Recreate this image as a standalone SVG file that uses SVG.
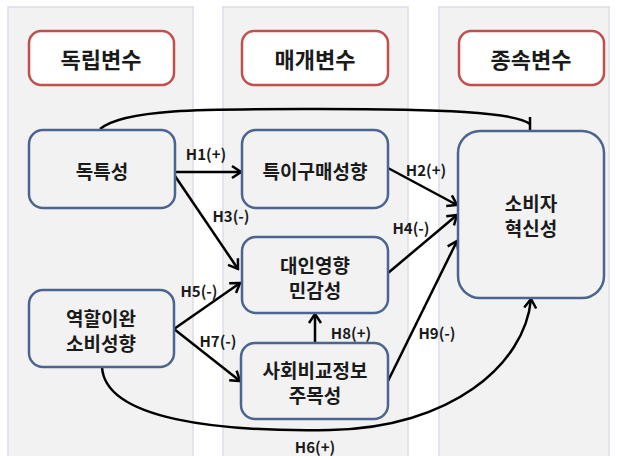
<svg xmlns="http://www.w3.org/2000/svg" width="617" height="456" viewBox="0 0 617 456">
<defs>
<style>
.col{fill:#f2f2f3;stroke:#dcdde9;stroke-width:1.5}
.hdr{fill:#ffffff;stroke:#c0504d;stroke-width:2.5}
.node{fill:#f2f2f3;stroke:#4a6690;stroke-width:2.5}
.htxt{font-family:"Noto Sans CJK KR",sans-serif;font-weight:bold;font-size:22px;fill:#1a1a1a;text-anchor:middle;dominant-baseline:central}
.ntxt{font-family:"Noto Sans CJK KR",sans-serif;font-weight:bold;font-size:19px;fill:#1a1a1a;text-anchor:middle;dominant-baseline:central}
.lbl{font-family:"Noto Sans CJK KR","Liberation Sans",sans-serif;font-weight:bold;font-size:15px;fill:#1a1a1a;text-anchor:middle;dominant-baseline:central}
.edge{fill:none;stroke:#000;stroke-width:2.5}
</style>
<marker id="arr" viewBox="-12 -8 14 16" refX="0" refY="0" markerWidth="14" markerHeight="16" markerUnits="userSpaceOnUse" orient="auto">
<path d="M-9,-6 L0,0 L-9,6" fill="none" stroke="#000" stroke-width="2.5" stroke-linejoin="miter"/>
</marker>
</defs>
<rect x="0" y="0" width="617" height="456" fill="#ffffff"/>
<g id="columns">
<rect class="col" x="8" y="7" width="185" height="452"/>
<rect class="col" x="223" y="7" width="185" height="452"/>
<rect class="col" x="439" y="7" width="170" height="452"/>
</g>
<g id="hdr-independent"><rect class="hdr" x="29" y="31" width="145" height="54" rx="12"/><text class="htxt" x="101" y="58">독립변수</text></g>
<g id="hdr-mediator"><rect class="hdr" x="242" y="31" width="146" height="54" rx="12"/><text class="htxt" x="315" y="58">매개변수</text></g>
<g id="hdr-dependent"><rect class="hdr" x="459" y="31" width="145" height="54" rx="12"/><text class="htxt" x="531" y="58">종속변수</text></g>
<g id="connectors">
<path class="edge" d="M100,129 C125,108 210,109 320,109 C440,109 515,112 530,124"/>
<path class="edge" d="M530,117 V131"/>
<path class="edge" d="M175,172 L241,172" marker-end="url(#arr)"/>
<path class="edge" d="M175,176 L238,269" marker-end="url(#arr)"/>
<path class="edge" d="M388,168 L457,205" marker-end="url(#arr)"/>
<path class="edge" d="M388,273 L457,215" marker-end="url(#arr)"/>
<path class="edge" d="M174,329 L240,283" marker-end="url(#arr)"/>
<path class="edge" d="M174,329 L240,381" marker-end="url(#arr)"/>
<path class="edge" d="M315,343 L315,314" marker-end="url(#arr)"/>
<path class="edge" d="M388,381 L457,241" marker-end="url(#arr)"/>
<path class="edge" d="M102,367 C105,420 220,432 330,430 C450,428 525,365 531,299" marker-end="url(#arr)"/>
<text class="lbl" x="206" y="153">H1(+)</text>
<text class="lbl" x="426" y="169">H2(+)</text>
<text class="lbl" x="231" y="215">H3(-)</text>
<text class="lbl" x="411" y="227">H4(-)</text>
<text class="lbl" x="199" y="290">H5(-)</text>
<text class="lbl" x="315" y="446">H6(+)</text>
<text class="lbl" x="218" y="340">H7(-)</text>
<text class="lbl" x="351" y="332">H8(+)</text>
<text class="lbl" x="437" y="332">H9(-)</text>
</g>
<g id="n-uniqueness"><rect class="node" x="29" y="130" width="146" height="78" rx="14"/><text class="ntxt" x="102" y="170">독특성</text></g>
<g id="n-unique-purchase"><rect class="node" x="242" y="130" width="146" height="78" rx="14"/><text class="ntxt" x="315" y="170">특이구매성향</text></g>
<g id="n-innovativeness"><rect class="node" x="458" y="131" width="146" height="167" rx="22"/><text class="ntxt" x="531" y="202">소비자</text><text class="ntxt" x="531" y="227">혁신성</text></g>
<g id="n-interpersonal"><rect class="node" x="242" y="237" width="146" height="76" rx="14"/><text class="ntxt" x="315" y="264">대인영향</text><text class="ntxt" x="315" y="289">민감성</text></g>
<g id="n-role-relaxed"><rect class="node" x="29" y="290" width="145" height="77" rx="14"/><text class="ntxt" x="101" y="317">역할이완</text><text class="ntxt" x="101" y="342">소비성향</text></g>
<g id="n-social-comparison"><rect class="node" x="241" y="343" width="147" height="76" rx="14"/><text class="ntxt" x="315" y="369">사회비교정보</text><text class="ntxt" x="315" y="394">주목성</text></g>
</svg>
